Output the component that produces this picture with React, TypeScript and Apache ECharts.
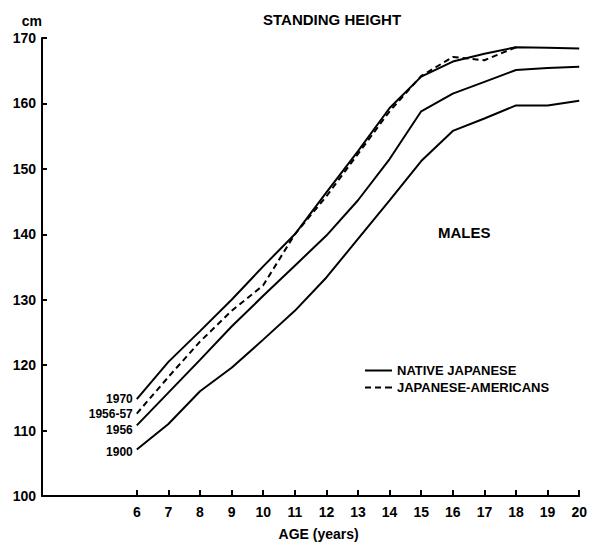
import React, { useEffect, useRef } from "react";
import * as echarts from "echarts";

const ages = [6, 7, 8, 9, 10, 11, 12, 13, 14, 15, 16, 17, 18, 19, 20];
const native1970 = [114.8, 120.5, 125.2, 130.0, 135.1, 140.0, 146.4, 152.7, 159.3, 164.1, 166.4, 167.6, 168.6, 168.5, 168.4];
const native1956 = [110.8, 115.8, 120.8, 125.9, 130.6, 135.2, 139.8, 145.2, 151.5, 158.8, 161.5, 163.3, 165.1, 165.4, 165.6];
const native1900 = [107.1, 111.0, 116.0, 119.6, 123.9, 128.3, 133.4, 139.3, 145.2, 151.2, 155.8, 157.7, 159.7, 159.7, 160.4];
const japAmerAges = [6, 7, 8, 9, 10, 11, 12, 13, 14, 15, 16, 17, 18];
const japAmer1956_57 = [112.6, 118.2, 123.6, 128.3, 132.2, 140.0, 145.8, 152.3, 158.8, 164.2, 167.1, 166.6, 168.6];
const xTickValues = [6, 7, 8, 9, 10, 11, 12, 13, 14, 15, 16, 17, 18, 19, 20];

const FONT = "Liberation Sans";

function build(xs: number[], ys: number[], label: string, offsetY: number) {
  return xs.map((x, i) => {
    if (i === 0) {
      return {
        value: [x, ys[i]],
        label: {
          show: true,
          position: "left",
          distance: 4,
          offset: [0, offsetY],
          formatter: label,
          fontFamily: FONT,
          fontWeight: "bold",
          fontSize: 12,
          color: "#000",
        },
      };
    }
    return { value: [x, ys[i]] };
  });
}

export default function App() {
  const ref = useRef<HTMLDivElement>(null);
  useEffect(() => {
    document.body.style.margin = "0";
    const chart = echarts.init(ref.current!, null, { renderer: "svg" });
    const lineBase = {
      type: "line",
      symbol: "circle",
      symbolSize: 0,
      showSymbol: true,
      lineStyle: { color: "#000", width: 2 },
      itemStyle: { color: "#000" },
      z: 3,
    };
    chart.setOption({
      animation: false,
      backgroundColor: "#fff",
      title: {
        text: "STANDING HEIGHT",
        left: 258,
        top: 7,
        textStyle: { fontFamily: FONT, fontWeight: "bold", fontSize: 15, color: "#000" },
      },
      legend: {
        orient: "vertical",
        left: 360,
        top: 359,
        itemWidth: 27,
        itemHeight: 2,
        itemGap: 4,
        data: [
          { name: "NATIVE JAPANESE", icon: "rect" },
          { name: "JAPANESE-AMERICANS", icon: "path://M0,0h6v2h-6z M10,0h6v2h-6z M20,0h7v2h-7z" },
        ],
        itemStyle: { color: "#000" },
        textStyle: { fontFamily: FONT, fontWeight: "bold", fontSize: 13, color: "#000" },
      },
      grid: { left: 42, width: 539, top: 38, height: 464, containLabel: false },
      xAxis: {
        type: "value",
        min: 3,
        max: 20,
        interval: 1,
        name: "AGE (years)",
        nameLocation: "middle",
        nameGap: 31,
        nameTextStyle: { fontFamily: FONT, fontWeight: "bold", fontSize: 14, color: "#000", padding: [0, 0, 0, 16] },
        axisLine: { lineStyle: { color: "#000", width: 2 } },
        axisTick: { inside: true, length: 6, lineStyle: { color: "#000", width: 2 }, customValues: xTickValues },
        axisLabel: {
          customValues: xTickValues,
          margin: 9,
          fontFamily: FONT,
          fontWeight: "bold",
          fontSize: 14,
          color: "#000",
        },
        splitLine: { show: false },
      },
      yAxis: {
        type: "value",
        min: 100,
        max: 170,
        interval: 10,
        name: "cm",
        nameLocation: "end",
        nameGap: 10,
        nameTextStyle: { fontFamily: FONT, fontWeight: "bold", fontSize: 14, color: "#000", align: "right" },
        axisLine: { show: true, lineStyle: { color: "#000", width: 2 } },
        axisTick: { show: true, inside: true, length: 5, lineStyle: { color: "#000", width: 2 } },
        axisLabel: { margin: 6, fontFamily: FONT, fontWeight: "bold", fontSize: 14, color: "#000" },
        splitLine: { show: false },
      },
      graphic: [
        {
          type: "text",
          left: 438,
          top: 225,
          style: { text: "MALES", font: `bold 15px "${FONT}"`, fill: "#000" },
        },
      ],
      series: [
        { ...lineBase, name: "NATIVE JAPANESE", data: build(ages, native1970, "1970", 0) },
        { ...lineBase, name: "NATIVE JAPANESE", data: build(ages, native1956, "1956", 5) },
        { ...lineBase, name: "NATIVE JAPANESE", data: build(ages, native1900, "1900", 2) },
        {
          ...lineBase,
          name: "JAPANESE-AMERICANS",
          lineStyle: { color: "#000", width: 2, type: [6, 4] },
          data: build(japAmerAges, japAmer1956_57, "1956-57", 0),
        },
      ],
    });
    return () => chart.dispose();
  }, []);
  return <div ref={ref} style={{ position: "absolute", left: 0, top: 0, width: 590, height: 546 }} />;
}
